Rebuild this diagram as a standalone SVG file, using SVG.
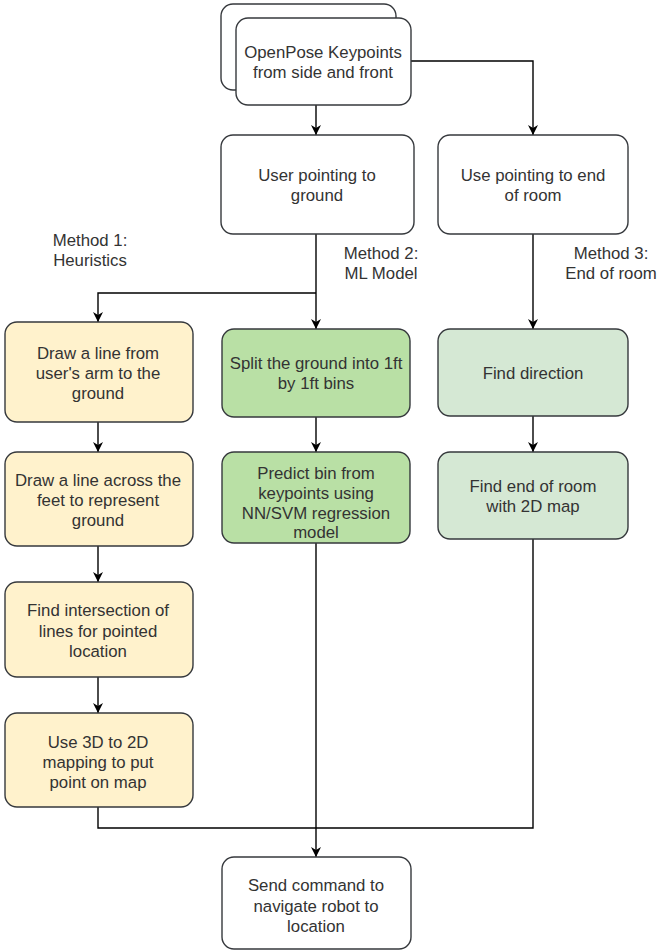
<svg xmlns="http://www.w3.org/2000/svg" width="658" height="951" viewBox="0 0 658 951">
<defs>
<marker id="arr" markerUnits="userSpaceOnUse" viewBox="0 0 10 10" refX="10" refY="5" markerWidth="10" markerHeight="10" orient="auto">
<path d="M0,0 L10,5 L0,10 L3,5 Z" fill="#000"/>
</marker>
</defs>
<style>
.box{stroke:#36393d;stroke-width:1.4}
.w{fill:#ffffff}
.y{fill:#fff2cc}
.g{fill:#b9e0a5}
.lg{fill:#d5e8d4}
text{font-family:"Liberation Sans",Arial,sans-serif;font-size:16.8px;fill:#333333;text-anchor:middle}
.e{fill:none;stroke:#000;stroke-width:1.4}
</style>
<rect width="658" height="951" fill="#ffffff"/>
<g id="edges">
<path class="e" d="M316,105 L316,135" marker-end="url(#arr)"/>
<path class="e" d="M411,61 L533,61 L533,135" marker-end="url(#arr)"/>
<path class="e" d="M316,234 L316,329" marker-end="url(#arr)"/>
<path class="e" d="M316,293 L98,293 L98,322" marker-end="url(#arr)"/>
<path class="e" d="M533,234 L533,329" marker-end="url(#arr)"/>
<path class="e" d="M98,422 L98,452" marker-end="url(#arr)"/>
<path class="e" d="M98,546 L98,582" marker-end="url(#arr)"/>
<path class="e" d="M98,677 L98,713" marker-end="url(#arr)"/>
<path class="e" d="M316,417 L316,452" marker-end="url(#arr)"/>
<path class="e" d="M533,416 L533,452" marker-end="url(#arr)"/>
<path class="e" d="M316,543 L316,857" marker-end="url(#arr)"/>
<path class="e" d="M98,807 L98,828 L533,828 L533,539"/>
</g>
<g id="labels">
<text x="90" y="246">Method 1:</text>
<text x="90" y="266">Heuristics</text>
<text x="381" y="259">Method 2:</text>
<text x="381" y="279">ML Model</text>
<text x="611" y="259">Method 3:</text>
<text x="611" y="279">End of room</text>
</g>
<g id="openpose">
<rect class="box w" x="221" y="4" width="175" height="86" rx="12"/>
<rect class="box w" x="236" y="18" width="175" height="87" rx="12"/>
<text x="323" y="58">OpenPose Keypoints</text>
<text x="323" y="78">from side and front</text>
</g>
<g id="user-ground">
<rect class="box w" x="221" y="135" width="193" height="99" rx="12"/>
<text x="317" y="181">User pointing to</text>
<text x="317" y="201">ground</text>
</g>
<g id="user-end">
<rect class="box w" x="438" y="135" width="190" height="99" rx="12"/>
<text x="533" y="181">Use pointing to end</text>
<text x="533" y="201">of room</text>
</g>
<g id="h1">
<rect class="box y" x="5" y="322" width="188" height="100" rx="12"/>
<text x="98" y="359">Draw a line from</text>
<text x="98" y="379">user's arm to the</text>
<text x="98" y="399">ground</text>
</g>
<g id="h2">
<rect class="box y" x="5" y="452" width="188" height="94" rx="12"/>
<text x="98" y="486">Draw a line across the</text>
<text x="98" y="506">feet to represent</text>
<text x="98" y="526">ground</text>
</g>
<g id="h3">
<rect class="box y" x="5" y="582" width="188" height="95" rx="12"/>
<text x="98" y="616">Find intersection of</text>
<text x="98" y="637">lines for pointed</text>
<text x="98" y="657">location</text>
</g>
<g id="h4">
<rect class="box y" x="5" y="713" width="188" height="94" rx="12"/>
<text x="98" y="748">Use 3D to 2D</text>
<text x="98" y="768">mapping to put</text>
<text x="98" y="788">point on map</text>
</g>
<g id="m1">
<rect class="box g" x="222" y="329" width="188" height="88" rx="12"/>
<text x="316" y="369">Split the ground into 1ft</text>
<text x="316" y="389">by 1ft bins</text>
</g>
<g id="m2">
<rect class="box g" x="222" y="452" width="188" height="91" rx="12"/>
<text x="316" y="479">Predict bin from</text>
<text x="316" y="499">keypoints using</text>
<text x="316" y="519">NN/SVM regression</text>
<text x="316" y="538">model</text>
</g>
<g id="e1">
<rect class="box lg" x="438" y="329" width="190" height="87" rx="12"/>
<text x="533" y="379">Find direction</text>
</g>
<g id="e2">
<rect class="box lg" x="438" y="452" width="190" height="87" rx="12"/>
<text x="533" y="492">Find end of room</text>
<text x="533" y="512">with 2D map</text>
</g>
<g id="send">
<rect class="box w" x="222" y="857" width="189" height="92" rx="12"/>
<text x="316" y="891">Send command to</text>
<text x="316" y="912">navigate robot to</text>
<text x="316" y="932">location</text>
</g>
</svg>
